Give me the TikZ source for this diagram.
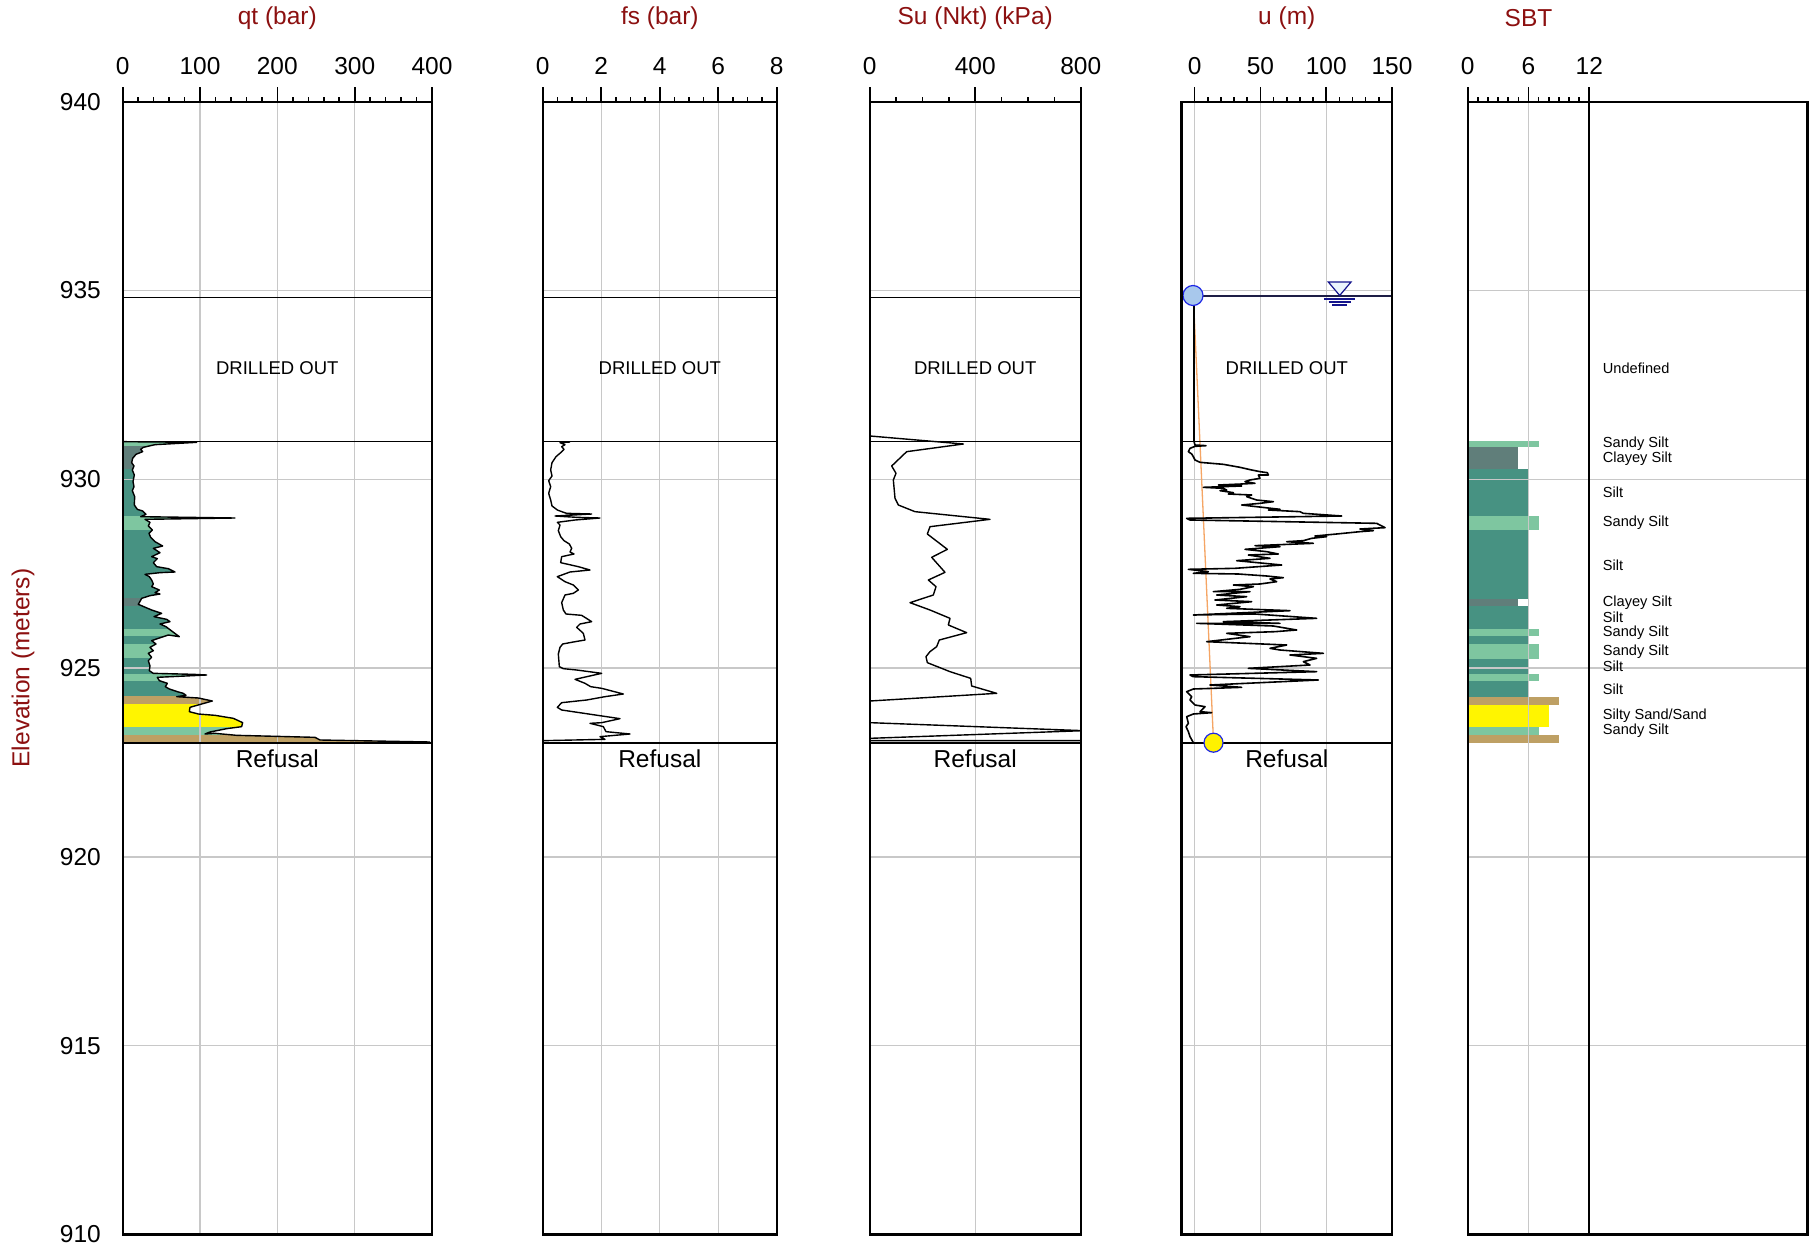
\documentclass[tikz,border=0pt]{standalone}
\usepackage{fontspec}
\setmainfont{Liberation Sans}
\definecolor{titlered}{RGB}{140,16,16}
\definecolor{gridgray}{RGB}{200,200,200}
\definecolor{siltc}{RGB}{71,146,130}
\definecolor{sandysiltc}{RGB}{126,198,160}
\definecolor{clayeysiltc}{RGB}{96,126,122}
\definecolor{sandc}{RGB}{190,160,100}
\definecolor{yellowc}{RGB}{255,245,0}
\definecolor{wtnavy}{RGB}{20,20,140}
\definecolor{wtline}{RGB}{30,30,70}
\definecolor{wtfill}{RGB}{235,244,252}
\definecolor{cblue}{RGB}{30,40,230}
\definecolor{cfill}{RGB}{168,200,236}
\definecolor{orangeln}{RGB}{245,165,100}
\tikzset{
 frm/.style={draw=black, line width=2.2pt},
 gridln/.style={draw=gridgray, line width=1.3pt},
 dline/.style={draw=black, line width=1.5pt},
 crv/.style={draw=black, line width=1.4pt, line join=round},
 tk/.style={draw=black, line width=1.6pt},
 ttl/.style={text=titlered, font=\fontsize{24.5}{29}\selectfont, inner sep=0pt},
 num/.style={font=\fontsize{24.5}{29}\selectfont, inner sep=0pt},
 dro/.style={font=\fontsize{18.5}{22}\selectfont, inner sep=0pt},
 refl/.style={font=\fontsize{24.5}{29}\selectfont, inner sep=0pt},
 sbtl/.style={font=\fontsize{14.6}{16}\selectfont, inner sep=0pt, anchor=west},
 zm/.style={x=0.33333pt, y=-0.33333pt},
}
\begin{document}
\begin{tikzpicture}[x=1pt,y=-1pt]
\useasboundingbox (0,0) rectangle (1814,1246);
\fill[white] (0,0) rectangle (1814,1246);

% ---------- qt fill (clipped by qt profile) ----------
\begin{scope}
\clip[shift={(100,420)}, zm] (70,65) -- (290,67) -- (165,74) -- (130,82) -- (122,88) -- (128,95) -- (108,103) -- (98,115) -- (95,128) -- (102,138) -- (97,150) -- (103,165) -- (99,185) -- (102,200) -- (97,212) -- (104,230) -- (103,255) -- (112,268) -- (128,273) -- (138,283) -- (122,290) -- (405,294) -- (135,298) -- (150,307) -- (145,318) -- (157,330) -- (147,340) -- (152,352) -- (165,365) -- (188,378) -- (160,385) -- (180,398) -- (155,410) -- (172,416) -- (160,428) -- (170,440) -- (205,446) -- (225,456) -- (180,458) -- (135,463) -- (148,470) -- (155,480) -- (160,492) -- (155,500) -- (178,510) -- (165,518) -- (180,522) -- (150,527) -- (125,535) -- (115,553) -- (155,570) -- (185,580) -- (162,590) -- (200,598) -- (210,605) -- (180,612) -- (198,620) -- (215,633) -- (238,650) -- (205,645) -- (175,655) -- (155,662) -- (168,672) -- (150,682) -- (160,692) -- (145,700) -- (155,712) -- (145,722) -- (150,738) -- (148,752) -- (160,760) -- (280,763) -- (320,765) -- (172,772) -- (178,782) -- (202,790) -- (196,800) -- (208,807) -- (232,815) -- (250,820) -- (258,826) -- (230,830) -- (295,834) -- (337,843) -- (305,852) -- (270,862) -- (268,875) -- (295,882) -- (345,886) -- (400,895) -- (428,908) -- (425,920) -- (380,926) -- (330,936) -- (315,942) -- (345,940) -- (410,946) -- (645,952) -- (660,960) -- (990,966) -- (70,966) -- cycle;
\foreach \a/\b/\c in {441/446/sandysiltc, 446/469/clayeysiltc, 469/515.5/siltc, 515.5/530/sandysiltc, 530/598/siltc, 598/605.5/clayeysiltc, 605.5/628.5/siltc, 628.5/635.5/sandysiltc, 635.5/643.5/siltc, 643.5/658/sandysiltc, 658/673.5/siltc, 673.5/680.5/sandysiltc, 680.5/696/siltc, 696/704/sandc, 704/727/yellowc, 727/734.5/sandysiltc, 734.5/742/sandc}
  \fill[\c] (122.7,\a) rectangle (432,\b);
\end{scope}

% ---------- SBT bars ----------
\foreach \a/\b/\c/\v in {440.5/446.5/sandysiltc/7, 446.5/469/clayeysiltc/5, 469/516/siltc/6, 516/530/sandysiltc/7, 530/599/siltc/6, 599/605.7/clayeysiltc/5, 605.7/629/siltc/6, 629/636/sandysiltc/7, 636/644/siltc/6, 644/659/sandysiltc/7, 659/674/siltc/6, 674/681/sandysiltc/7, 681/696.5/siltc/6, 696.5/705/sandc/9, 705/727.3/yellowc/8, 727.3/735/sandysiltc/7, 735/742.7/sandc/9}
  \fill[\c] (1467.7,\a) rectangle ({1467.7+\v*10.13},\b);

% ---------- grid ----------
\foreach \yy in {290.5,479.3,668.1,856.9,1045.7}{
  \foreach \L/\R in {122.7/432,542.8/776.7,869.7/1080.7,1181.5/1392,1467.7/1807.5}{
    \draw[gridln] (\L,\yy) -- (\R,\yy);}}
\foreach \xx in {200,277.3,354.7,601.3,659.8,718.2,975.2,1194.6,1260.4,1326.2,1528.5}
  \draw[gridln] (\xx,101.7) -- (\xx,1234.5);

% ---------- qt curve ----------
\draw[crv, shift={(100,420)}, zm] (70,65) -- (290,67) -- (165,74) -- (130,82) -- (122,88) -- (128,95) -- (108,103) -- (98,115) -- (95,128) -- (102,138) -- (97,150) -- (103,165) -- (99,185) -- (102,200) -- (97,212) -- (104,230) -- (103,255) -- (112,268) -- (128,273) -- (138,283) -- (122,290) -- (405,294) -- (135,298) -- (150,307) -- (145,318) -- (157,330) -- (147,340) -- (152,352) -- (165,365) -- (188,378) -- (160,385) -- (180,398) -- (155,410) -- (172,416) -- (160,428) -- (170,440) -- (205,446) -- (225,456) -- (180,458) -- (135,463) -- (148,470) -- (155,480) -- (160,492) -- (155,500) -- (178,510) -- (165,518) -- (180,522) -- (150,527) -- (125,535) -- (115,553) -- (155,570) -- (185,580) -- (162,590) -- (200,598) -- (210,605) -- (180,612) -- (198,620) -- (215,633) -- (238,650) -- (205,645) -- (175,655) -- (155,662) -- (168,672) -- (150,682) -- (160,692) -- (145,700) -- (155,712) -- (145,722) -- (150,738) -- (148,752) -- (160,760) -- (280,763) -- (320,765) -- (172,772) -- (178,782) -- (202,790) -- (196,800) -- (208,807) -- (232,815) -- (250,820) -- (258,826) -- (230,830) -- (295,834) -- (337,843) -- (305,852) -- (270,862) -- (268,875) -- (295,882) -- (345,886) -- (400,895) -- (428,908) -- (425,920) -- (380,926) -- (330,936) -- (315,942) -- (345,940) -- (410,946) -- (645,952) -- (660,960) -- (990,966);

% ---------- fs curve ----------
\draw[crv, shift={(520,420)}, zm] (150,66) -- (120,68) -- (135,74) -- (125,80) -- (132,88) -- (122,98) -- (108,110) -- (96,128) -- (92,150) -- (96,168) -- (86,182) -- (92,200) -- (86,220) -- (92,240) -- (96,258) -- (112,270) -- (128,276) -- (140,280) -- (215,282) -- (105,288) -- (170,292) -- (240,294) -- (165,300) -- (112,307) -- (120,315) -- (115,332) -- (122,350) -- (132,362) -- (148,372) -- (155,385) -- (150,396) -- (162,402) -- (125,410) -- (122,428) -- (175,440) -- (210,450) -- (150,456) -- (112,470) -- (135,485) -- (160,495) -- (175,510) -- (160,520) -- (135,525) -- (125,548) -- (130,570) -- (138,582) -- (185,586) -- (215,605) -- (180,612) -- (170,622) -- (190,640) -- (195,660) -- (160,666) -- (128,672) -- (120,682) -- (115,702) -- (118,740) -- (130,746) -- (170,750) -- (245,760) -- (165,778) -- (195,790) -- (212,800) -- (245,805) -- (310,822) -- (255,830) -- (200,840) -- (125,848) -- (112,862) -- (125,870) -- (300,896) -- (245,908) -- (210,910) -- (250,920) -- (258,935) -- (330,942) -- (240,950) -- (255,958) -- (70,962);

% ---------- Su curve ----------
\begin{scope}
\clip (869.7,101.7) rectangle (1080.7,1234.5);
\draw[crv, shift={(850,420)}, zm] (60,48) -- (340,72) -- (170,95) -- (125,138) -- (138,160) -- (130,180) -- (135,235) -- (145,255) -- (195,275) -- (420,298) -- (240,320) -- (232,342) -- (292,388) -- (245,412) -- (285,457) -- (235,480) -- (258,500) -- (250,525) -- (180,548) -- (240,570) -- (300,595) -- (295,615) -- (350,638) -- (268,660) -- (260,680) -- (240,695) -- (228,710) -- (232,728) -- (300,755) -- (362,775) -- (365,798) -- (440,820) -- (60,843) -- (60,908) -- (700,932) -- (60,955) -- (60,962) -- (700,962);
\end{scope}

% ---------- u curve ----------
\draw[orangeln, line width=1.3pt] (1193.5,300) -- (1213.5,742);
\draw[crv] (1194,297) -- (1194,441.7);
\draw[crv, line width=1.6pt, shift={(1180,430)}, zm] (42,35) -- (45,45) -- (78,47) -- (45,49) -- (30,55) -- (25,65) -- (35,72) -- (40,80) -- (45,90) -- (60,97) -- (130,103) -- (180,112) -- (215,120) -- (240,125) -- (262,128) -- (265,135) -- (235,135) -- (240,145) -- (210,150) -- (195,155) -- (225,160) -- (185,162) -- (115,165) -- (185,168) -- (70,172) -- (130,175) -- (140,180) -- (120,182) -- (160,188) -- (145,192) -- (215,195) -- (200,200) -- (230,210) -- (280,215) -- (240,220) -- (185,225) -- (300,238) -- (265,240) -- (360,245) -- (370,250) -- (485,258) -- (20,265) -- (30,270) -- (590,280) -- (615,293) -- (540,297) -- (580,302) -- (540,305) -- (470,312) -- (405,318) -- (440,320) -- (395,325) -- (370,332) -- (320,335) -- (400,340) -- (225,347) -- (300,350) -- (195,358) -- (260,365) -- (295,372) -- (205,375) -- (270,385) -- (170,392) -- (305,405) -- (165,415) -- (25,418) -- (85,425) -- (40,430) -- (175,432) -- (260,438) -- (310,443) -- (270,447) -- (290,455) -- (240,462) -- (160,465) -- (220,470) -- (180,478) -- (100,485) -- (210,485) -- (110,495) -- (200,500) -- (105,510) -- (215,515) -- (110,525) -- (180,530) -- (140,535) -- (330,542) -- (40,555) -- (225,552) -- (410,565) -- (130,575) -- (300,580) -- (50,580) -- (280,588) -- (350,600) -- (285,605) -- (140,610) -- (210,620) -- (80,635) -- (320,645) -- (270,655) -- (300,660) -- (430,670) -- (330,675) -- (410,685) -- (370,695) -- (390,705) -- (205,715) -- (410,725) -- (30,735) -- (40,740) -- (415,750) -- (90,765) -- (185,772) -- (100,775) -- (40,777) -- (20,785) -- (35,800) -- (30,810) -- (45,825) -- (75,830) -- (60,845) -- (95,848) -- (40,852) -- (20,860) -- (25,880) -- (18,890) -- (25,905) -- (30,920) -- (40,938);

% ---------- boundary lines ----------
\foreach \L/\R in {122.7/432,542.8/776.7,869.7/1080.7}{
  \draw[dline] (\L,297.5) -- (\R,297.5);}
\foreach \L/\R in {122.7/432,542.8/776.7,869.7/1080.7,1181.5/1392}{
  \draw[dline] (\L,441.7) -- (\R,441.7);
  \draw[dline] (\L,743) -- (\R,743);}
\draw[wtline, line width=2pt] (1181.5,296.5) -- (1392,296.5);

% water table symbol
\draw[wtnavy, fill=wtfill, line width=1.2pt] (1328.3,282) -- (1351,282) -- (1339.7,295.5) -- cycle;
\draw[wtnavy, line width=2.2pt] (1324,298.8) -- (1355,298.8);
\draw[wtnavy, line width=2.2pt] (1328.5,302) -- (1350.5,302);
\draw[wtnavy, line width=2.2pt] (1332,305.2) -- (1346.7,305.2);
\draw[cblue, fill=cfill, line width=1.2pt] (1193,295.5) circle (10);
\draw[cblue, fill=yellow, line width=1.2pt] (1213.5,742.7) circle (9.5);

% ---------- frames ----------
\foreach \L/\R in {122.7/432,542.8/776.7,869.7/1080.7,1181.5/1392,1467.7/1589.3,1589.3/1807.5}
  \draw[frm] (\L,101.7) rectangle (\R,1234.5);

% ---------- ticks ----------
\foreach \i in {0,...,20}{\pgfmathsetmacro\hh{mod(\i,5)==0 ? 14.5 : 5}\draw[tk] ({122.7+\i*15.4665},101.7) -- ++(0,-\hh);}
\foreach \i in {0,...,16}{\pgfmathsetmacro\hh{mod(\i,4)==0 ? 14.5 : 5}\draw[tk] ({542.8+\i*14.619},101.7) -- ++(0,-\hh);}
\foreach \i in {0,...,8}{\pgfmathsetmacro\hh{mod(\i,4)==0 ? 14.5 : 5}\draw[tk] ({869.7+\i*26.375},101.7) -- ++(0,-\hh);}
\foreach \i in {0,...,15}{\pgfmathsetmacro\hh{mod(\i,5)==0 ? 14.5 : 5}\draw[tk] ({1194.6+\i*13.16},101.7) -- ++(0,-\hh);}
\foreach \i in {0,...,12}{\pgfmathsetmacro\hh{mod(\i,6)==0 ? 14.5 : 5}\draw[tk] ({1467.7+\i*10.13},101.7) -- ++(0,-\hh);}

% ---------- tick labels ----------
\foreach \v/\x [count=\n] in {0/122.7,100/200,200/277.3,300/354.7,400/432}
  \node[num] (lq\n) at (\x,66) {\v};
\foreach \v/\x [count=\n] in {0/542.8,2/601.3,4/659.8,6/718.2,8/776.7}
  \node[num] (lf\n) at (\x,66) {\v};
\foreach \v/\x [count=\n] in {0/869.7,400/975.2,800/1080.7}
  \node[num] (ls\n) at (\x,66) {\v};
\foreach \v/\x [count=\n] in {0/1194.6,50/1260.4,100/1326.2,150/1392}
  \node[num] (lu\n) at (\x,66) {\v};
\foreach \v/\x [count=\n] in {0/1467.7,6/1528.5,12/1589.3}
  \node[num] (lb\n) at (\x,66) {\v};

% ---------- titles ----------
\node[ttl] (tq) at (277.3,18) {qt (bar)};
\node[ttl] (tf) at (659.8,18) {fs (bar)};
\node[ttl] (ts) at (975.2,18) {Su (Nkt) (kPa)};
\node[ttl] (tu) at (1286.8,18) {u (m)};
\node[ttl] (tb) at (1528.5,18) {SBT};
\node[ttl, rotate=90] (tel) at (23,668) {Elevation (meters)};

% ---------- elevation labels ----------
\foreach \e/\yy [count=\n] in {940/101.7,935/290.5,930/479.3,925/668.1,920/856.9,915/1045.7,910/1234.5}
  \node[num, anchor=east] (el\n) at (101,\yy) {\e};

% ---------- DRILLED OUT / Refusal ----------
\foreach \x [count=\n] in {277.3,659.8,975.2,1286.8}{
  \node[dro] (dr\n) at (\x,368) {DRILLED OUT};
  \node[refl] (rf\n) at (\x,759) {Refusal};}

% ---------- SBT labels ----------
\node[sbtl] (sb0) at (1602.7,368) {Undefined};
\foreach \t/\yy [count=\n] in {{Sandy Silt}/443.5, {Clayey Silt}/458.5, {Silt}/492.5, {Sandy Silt}/522.5, {Silt}/564.8, {Clayey Silt}/602.5, {Silt}/617.5, {Sandy Silt}/632.5, {Sandy Silt}/651.5, {Silt}/666.5, {Silt}/689, {Silty Sand/Sand}/715.8, {Sandy Silt}/730.8}
  \node[sbtl] (sb\n) at (1602.7,\yy) {\t};
\end{tikzpicture}
\end{document}
